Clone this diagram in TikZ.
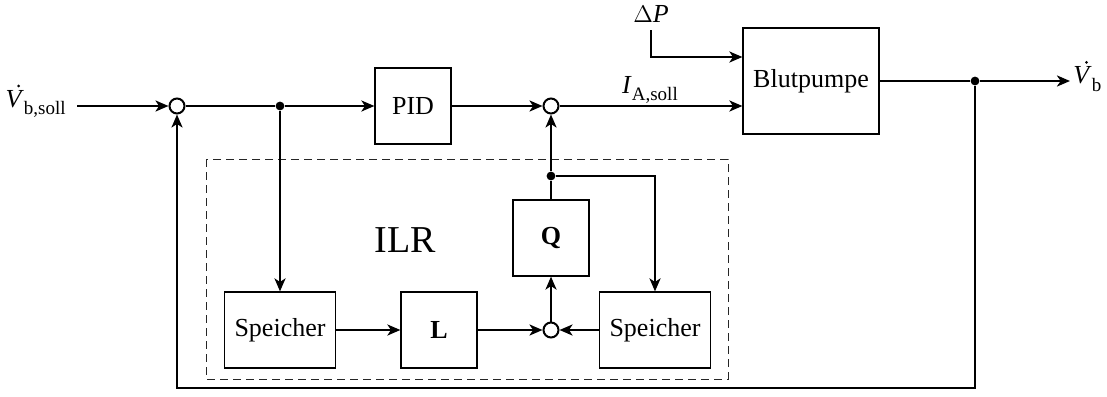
\documentclass[tikz,border=0pt]{standalone}
\usepackage{fontspec}
\setmainfont{Liberation Serif}
\usetikzlibrary{arrows.meta}
\newcommand\mysub[1]{\raisebox{-0.28em}{\fontsize{9.5}{10}\selectfont #1}}
\begin{document}
\begin{tikzpicture}[x=0.5pt,y=-0.5pt,
  font=\fontsize{13}{15}\selectfont,
  blk/.style={draw,line width=0.6pt,minimum width=38pt,minimum height=38pt,inner sep=0pt},
  sumc/.style={draw,circle,line width=1pt,minimum size=7.5pt,inner sep=0pt,fill=white},
  dotc/.style={circle,fill=black,minimum size=4.4pt,inner sep=0pt},
  conn/.style={line width=1.15pt},
  arr/.style={conn,-{Stealth[length=6.5pt,width=5.5pt,inset=1.8pt]}},
  lbl/.style={inner sep=0pt}]
\useasboundingbox (0,0) rectangle (1107,396);
% dashed ILR frame
\draw[dashed,line width=0.5pt,dash pattern=on 4pt off 2.5pt,gray!30!black] (206,159) rectangle (728,379);
\node[lbl,font=\fontsize{19}{22}\selectfont] (ilr) at (405,240) {ILR};
% nodes
\node[lbl,anchor=east] (in) at (66,104) {\textit{V}\mysub{b,soll}};
\fill (in.north west) ++(13.5,-4) circle (0.75pt);
\coordinate (inL) at (77,106);
\node[sumc] (s1) at (177,106) {};
\node[dotc] (j1) at (280,106) {};
\node[blk] (pid) at (413,106) {PID};
\node[sumc] (s2) at (551,106) {};
\node[blk,minimum width=68pt,minimum height=53pt] (bp) at (811,81) {Blutpumpe};
\node[lbl] (dp) at (651,14) {$\Delta$\textit{P}};
\coordinate (dpS) at (651,30);
\coordinate (dpY) at (0,57);
\node[lbl] (ia) at (650,90) {\textit{I}\mysub{A,soll}};
\node[dotc] (j2) at (975,81) {};
\coordinate (out) at (1070,81);
\node[lbl,anchor=west] (vb) at (1073,79) {\textit{V}\mysub{b}};
\fill (vb.north west) ++(13.5,-4) circle (0.75pt);
\coordinate (fb) at (177,388);
\node[blk,minimum width=55.5pt] (sp1) at (280,330) {Speicher};
\node[blk] (L) at (439,330) {\textbf{L}};
\node[sumc] (s3) at (551,330) {};
\node[blk,minimum width=55.5pt] (sp2) at (655,330) {Speicher};
\node[blk] (Q) at (551,238) {\textbf{Q}};
\node[dotc] (j3) at (551,176) {};
% connectors
\draw[arr] (inL) -- (s1);
\draw[arr] (s1) -- (j1) -- (pid);
\draw[arr] (j1) -- (sp1);
\draw[arr] (pid) -- (s2);
\draw[arr] (s2) -- (s2 -| bp.west);
\draw[arr] (dpS) |- (bp.west |- dpY);
\draw[arr] (bp.east |- j2) -- (j2) -- (out);
\draw[arr] (j2) -- (j2 |- fb) -- (fb) -- (s1);
\draw[arr] (sp1) -- (L);
\draw[arr] (L) -- (s3);
\draw[arr] (sp2) -- (s3);
\draw[arr] (s3) -- (Q);
\draw[arr] (Q) -- (j3) -- (s2);
\draw[arr] (j3) -| (sp2.north);
\end{tikzpicture}
\end{document}
